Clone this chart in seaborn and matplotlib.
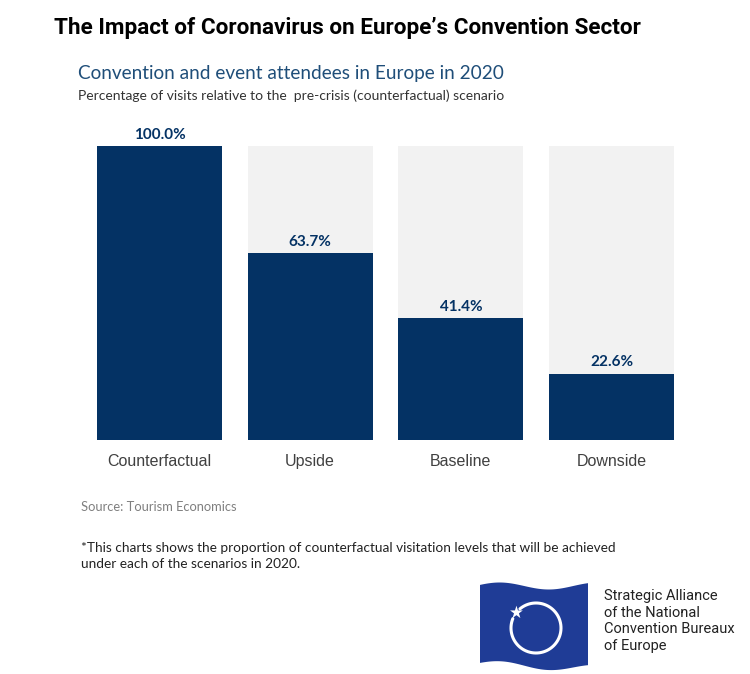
import numpy as np
import pandas as pd
import matplotlib
matplotlib.use("Agg")
import matplotlib.pyplot as plt
import seaborn as sns
from matplotlib.patches import Polygon

scenarios = ["Counterfactual", "Upside", "Baseline", "Downside"]
values = [100.0, 63.7, 41.4, 22.6]
full = [100.0, 100.0, 100.0, 100.0]
value_labels = ["100.0%", "63.7%", "41.4%", "22.6%"]

NAVY = "#043264"
BG = "#F2F2F2"

sns.set_theme(style="white")
plt.rcParams['font.family'] = ['Lato', 'DejaVu Sans']

W, H = 750, 674
fig = plt.figure(figsize=(7.5, 6.74), dpi=100)

def fx(x):
    return x / W

def fy(y):
    return 1 - y / H

ax = fig.add_axes([fx(84.2), fy(440), 602.6 / W, (440 - 146) / H])
df = pd.DataFrame({"scenario": scenarios, "value": values, "full": full})
sns.barplot(data=df, x="scenario", y="full", color=BG, width=0.83, ax=ax,
            saturation=1, edgecolor="none")
sns.barplot(data=df, x="scenario", y="value", color=NAVY, width=0.83, ax=ax,
            saturation=1, edgecolor="none")
ax.set_xlim(-0.5, 3.5)
ax.set_ylim(0, 100)
ax.set_xlabel("")
ax.set_ylabel("")
ax.set_yticks([])
for s in ax.spines.values():
    s.set_visible(False)
ax.tick_params(axis="x", length=0, pad=10)
for lab in ax.get_xticklabels():
    lab.set_fontfamily(["Liberation Sans", "DejaVu Sans"])
    lab.set_fontsize(11.5)
    lab.set_color("#404040")
for i, (v, t) in enumerate(zip(values, value_labels)):
    ax.annotate(t, (i, v), xytext=(0, 3), textcoords="offset points",
                ha="center", va="bottom", fontsize=11, fontweight="bold",
                color=NAVY, clip_on=False)

# Titles
fig.text(fx(54), fy(28), "The Impact of Coronavirus on Europe\u2019s Convention Sector",
         fontsize=16.2, fontweight="bold", color="black", va="center", ha="left",
         family=["Roboto", "DejaVu Sans"])
fig.text(fx(78), fy(73), "Convention and event attendees in Europe in 2020",
         fontsize=13.7, color="#1F4E79", va="center", ha="left")
fig.text(fx(78), fy(96), "Percentage of visits relative to the  pre-crisis (counterfactual) scenario",
         fontsize=10, color="#333333", va="center", ha="left")

fig.text(fx(81), fy(507), "Source: Tourism Economics", fontsize=9.3,
         color="#7F7F7F", va="center", ha="left")
fig.text(fx(81), fy(548), "*This charts shows the proportion of counterfactual visitation levels that will be achieved",
         fontsize=9.8, color="#222222", va="center", ha="left")
fig.text(fx(81), fy(564), "under each of the scenarios in 2020.",
         fontsize=9.8, color="#222222", va="center", ha="left")

# Logo: wavy flag
xs = np.linspace(480, 588, 80)
t = (xs - 480) / 108
wave = -3.5 * np.sin(2 * np.pi * (t * 1.1 + 0.05))
top = 586 + wave
bot = 664 + wave + 4 * t
pts = [(fx(x), fy(y)) for x, y in zip(xs, top)] + \
      [(fx(x), fy(y)) for x, y in zip(xs[::-1], bot[::-1])]
fig.patches.append(Polygon(pts, closed=True, facecolor="#1F3C96",
                           edgecolor="none", transform=fig.transFigure))
# ring
cx, cy, r = 536, 628, 25
ang = np.linspace(np.deg2rad(158), np.deg2rad(130 + 360), 150)
rx = cx + r * np.cos(ang)
ry = cy - r * np.sin(ang)
fig.add_artist(plt.Line2D([fx(x) for x in rx], [fy(y) for y in ry],
                          color="white", lw=2.2, transform=fig.transFigure))
fig.text(fx(516), fy(613), "\u2605", color="white", fontsize=12,
         ha="center", va="center", family=["DejaVu Sans"])

fig.text(fx(604), fy(621), "Strategic Alliance\nof the National\nConvention Bureaux\nof Europe",
         fontsize=10.5, color="#222222", va="center", ha="left",
         linespacing=1.25, family=["Roboto", "DejaVu Sans"])

fig.savefig("out.png", dpi=100, facecolor="white")
